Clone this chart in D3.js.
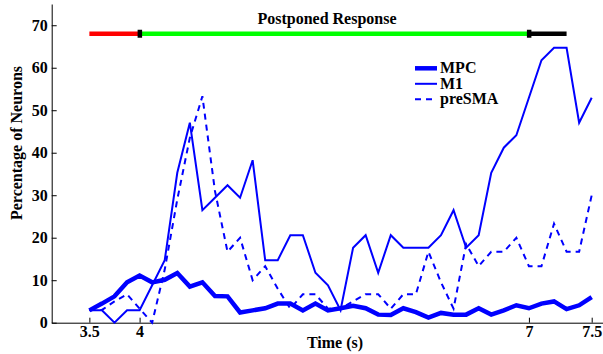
<!DOCTYPE html>
<html>
<head>
<meta charset="utf-8">
<script src="https://cdn.jsdelivr.net/npm/d3@7/dist/d3.min.js"></script>
<style>
  html, body { margin: 0; padding: 0; background: #fff; }
  svg { display: block; }
  text { font-family: "Liberation Serif", "Times New Roman", Times, serif; font-weight: bold; }
</style>
</head>
<body>
<svg id="chart" width="603" height="354"></svg>
<script>
// ---- data ----
const nBins = 41;
const binIndex = d3.range(nBins);               // time-bin index for each sample
const tickBins = [0, 4, 35, 40];
const tickLabels = ["3.5", "4", "7", "7.5"];
const yTicks = [0, 10, 20, 30, 40, 50, 60, 70];

const mpc = [2.9, 4.5, 6.2, 9.5, 11.1, 9.5, 10.1, 11.7, 8.5, 9.5,
             6.3, 6.2, 2.4, 2.9, 3.4, 4.5, 4.5, 2.9, 4.5, 2.9,
             3.4, 4.0, 3.4, 1.9, 1.8, 3.4, 2.5, 1.2, 2.3, 1.9,
             1.9, 3.4, 1.9, 2.9, 4.1, 3.4, 4.5, 5.0, 3.2, 4.1, 6.0];
const m1 = [2.94, 2.94, 0, 2.94, 2.94, 8.82, 14.71, 35.29, 47.06, 26.47,
            29.41, 32.35, 29.41, 38.24, 14.71, 14.71, 20.59, 20.59, 11.76, 8.82,
            2.94, 17.65, 20.59, 11.76, 20.59, 17.65, 17.65, 17.65, 20.59, 26.47,
            17.65, 20.59, 35.29, 41.18, 44.12, 52.94, 61.76, 64.71, 64.71, 47.06, 52.94];
const preSMA = [3.0, 3.0, 5.0, 6.7, 3.3, 0, 12.5, 29, 43.5, 53.3,
                31, 16.7, 20, 10, 13.3, 8, 3.3, 6.7, 6.7, 3.3,
                3.4, 5.0, 6.7, 6.7, 3.3, 6.7, 6.7, 16.7, 9.5, 3.3,
                18.5, 13.3, 16.7, 16.7, 20, 13.3, 13.3, 23.3, 16.7, 16.7, 30];

const seriesNames = ["MPC", "M1", "preSMA"];
const seriesValues = [mpc, m1, preSMA];

// epoch bar (in bin units)
const epochStart = [0, 4, 35];
const epochEnd = [4, 35, 38];
const epochColor = ["#ff0000", "#00ff00", "#000000"];
const epochMarkers = [4, 35];
const epochLevel = 68;
const titleText = "Postponed Response";

// ---- styles ----
const seriesWidth = [4.5, 2, 2];
const seriesDash = [null, null, "6,5"];
const blue = "#0000ff";
const FS = 16;
const FONT = '"Liberation Serif", "Times New Roman", Times, serif';

const svg = d3.select("#chart");
const x = d3.scaleLinear().domain([-3, 40.9]).range([51.7, 603]);
const y = d3.scaleLinear().domain([0, 75]).range([322.7, 4]);

// axes
const yAxis = d3.axisLeft(y).tickValues(yTicks).tickFormat(d3.format("d"))
  .tickSizeInner(-5).tickSizeOuter(0).tickPadding(4);
const gy = svg.append("g").attr("transform", `translate(${x.range()[0]},0)`).call(yAxis);

const xAxis = d3.axisBottom(x).tickValues(tickBins)
  .tickFormat((d, i) => tickLabels[i])
  .tickSizeInner(-5).tickSizeOuter(0).tickPadding(3);
const gx = svg.append("g").attr("transform", `translate(0,${y(0)})`).call(xAxis);

[gx, gy].forEach(g => {
  g.attr("font-family", FONT).attr("font-size", FS);
  g.selectAll("text").attr("fill", "#000")
    .style("font-family", FONT).style("font-weight", "bold").style("font-size", FS + "px");
  g.select(".domain").attr("stroke", "#000").attr("stroke-width", 1);
  g.selectAll(".tick line").attr("stroke", "#000");
});

// lines
const lineGen = d3.line().x((d, i) => x(binIndex[i])).y(d => y(d));
seriesValues.forEach((vals, k) => {
  svg.append("path").datum(vals)
    .attr("fill", "none").attr("stroke", blue)
    .attr("stroke-width", seriesWidth[k])
    .attr("stroke-linejoin", "miter")
    .attr("stroke-dasharray", seriesDash[k])
    .attr("d", lineGen);
});

// epoch bar
epochStart.forEach((s, i) => {
  svg.append("line")
    .attr("x1", x(s)).attr("x2", x(epochEnd[i]))
    .attr("y1", y(epochLevel)).attr("y2", y(epochLevel))
    .attr("stroke", epochColor[i]).attr("stroke-width", 4.5);
});
epochMarkers.forEach(m => {
  svg.append("rect")
    .attr("x", x(m) - 2).attr("y", y(epochLevel) - 4)
    .attr("width", 4.5).attr("height", 8).attr("fill", "#000");
});

// title
svg.append("text").attr("x", 327).attr("y", 24).attr("text-anchor", "middle")
  .style("font-size", FS + "px").text(titleText);

// axis labels
svg.append("text").attr("x", 335).attr("y", 347.5).attr("text-anchor", "middle")
  .style("font-size", FS + "px").text("Time (s)");
svg.append("text").attr("transform", "translate(22,143) rotate(-90)")
  .attr("text-anchor", "middle").style("font-size", FS + "px").text("Percentage of Neurons");

// legend
const legX = 415, legY = 68.3, legStep = 15.5;
seriesNames.forEach((name, k) => {
  const yy = legY + k * legStep;
  svg.append("line").attr("x1", legX).attr("x2", legX + 22)
    .attr("y1", yy).attr("y2", yy)
    .attr("stroke", blue).attr("stroke-width", seriesWidth[k])
    .attr("stroke-dasharray", seriesDash[k]);
  svg.append("text").attr("x", legX + 25).attr("y", yy + 4.7)
    .style("font-size", FS + "px").text(name);
});
</script>
</body>
</html>
